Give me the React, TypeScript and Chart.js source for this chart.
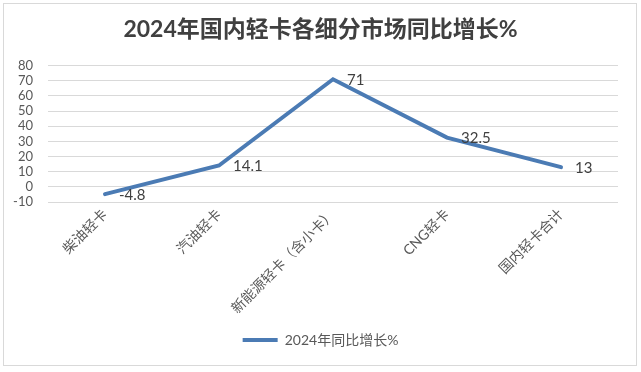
import React, { useEffect, useRef } from "react";
import { Chart, registerables } from "chart.js";

Chart.register(...registerables);

const TITLE = "2024年国内轻卡各细分市场同比增长%";
const SERIES_NAME = "2024年同比增长%";
const categories = ["柴油轻卡", "汽油轻卡", "新能源轻卡（含小卡）", "CNG轻卡", "国内轻卡合计"];
const growth = [-4.8, 14.1, 71, 32.5, 13];
const yTicks = [-10, 0, 10, 20, 30, 40, 50, 60, 70, 80];

const FONT = 'Lato, "Noto Sans CJK SC", sans-serif';
const LINE_COLOR = "#4b7bb4";

const framePlugin = {
  id: "frame",
  beforeDraw(chart: any) {
    const { ctx, width, height } = chart;
    ctx.save();
    ctx.fillStyle = "#ffffff";
    ctx.fillRect(0, 0, width, height);
    ctx.strokeStyle = "#d9d9d9";
    ctx.lineWidth = 1;
    ctx.strokeRect(3.5, 3.5, 633, 362);
    ctx.restore();
  },
};

const valueLabels = {
  id: "valueLabels",
  afterDatasetsDraw(chart: any) {
    const { ctx } = chart;
    const meta = chart.getDatasetMeta(0);
    const data = chart.data.datasets[0].data as number[];
    ctx.save();
    ctx.font = `15px ${FONT}`;
    ctx.fillStyle = "#404040";
    ctx.textAlign = "left";
    ctx.textBaseline = "middle";
    meta.data.forEach((pt: any, i: number) => {
      ctx.fillText(String(data[i]), pt.x + 14, pt.y + 1);
    });
    ctx.restore();
  },
};

export default function App() {
  const ref = useRef<HTMLCanvasElement>(null);
  useEffect(() => {
    if (!ref.current) return;
    const chart = new Chart(ref.current, {
      type: "line",
      data: {
        labels: categories,
        datasets: [
          {
            label: SERIES_NAME,
            data: growth,
            borderColor: LINE_COLOR,
            backgroundColor: LINE_COLOR,
            borderWidth: 4,
            pointRadius: 0,
            pointHoverRadius: 0,
            tension: 0,
            borderCapStyle: "round",
          },
        ],
      },
      options: {
        responsive: false,
        animation: false,
        layout: { padding: { left: 0, right: 0, top: 0, bottom: 15 } },
        plugins: {
          title: {
            display: true,
            text: TITLE,
            color: "#404040",
            font: { family: FONT, size: 23, weight: "bold" },
            padding: { top: 16, bottom: 22 },
          },
          legend: {
            position: "bottom",
            labels: {
              boxWidth: 35,
              boxHeight: 4,
              padding: 10,
              color: "#595959",
              font: { family: FONT, size: 14 },
              generateLabels: (c: any) =>
                Chart.defaults.plugins.legend.labels
                  .generateLabels(c)
                  .map((l: any) => ({ ...l, lineWidth: 0, fillStyle: LINE_COLOR })),
            },
          },
          tooltip: { enabled: false },
        },
        scales: {
          x: {
            offset: true,
            grid: { display: false, drawTicks: false, offset: true },
            border: { display: false },
            ticks: {
              minRotation: 45,
              maxRotation: 45,
              autoSkip: false,
              padding: 4,
              color: "#595959",
              font: { family: FONT, size: 14 },
            },
            afterFit: (s: any) => {
              s.height = 121;
            },
          },
          y: {
            min: -10,
            max: 80,
            afterBuildTicks: (s: any) => {
              s.ticks = yTicks.map((v) => ({ value: v }));
            },
            grid: { color: "#d9d9d9", lineWidth: 1, drawTicks: false },
            border: { display: false },
            ticks: {
              autoSkip: false,
              padding: 15,
              color: "#595959",
              font: { family: FONT, size: 13 },
            },
            afterFit: (s: any) => {
              s.width = 48;
            },
          },
          yRightSpace: {
            position: "right",
            min: -10,
            max: 80,
            grid: { display: false, drawTicks: false },
            border: { display: false },
            ticks: { display: false },
            afterFit: (s: any) => {
              s.width = 23;
            },
          },
        },
      },
      plugins: [framePlugin, valueLabels],
    });
    return () => chart.destroy();
  }, []);
  return (
    <div style={{ position: "absolute", left: 0, top: 0, width: 641, height: 372 }}>
      <canvas ref={ref} width={641} height={372} />
    </div>
  );
}
